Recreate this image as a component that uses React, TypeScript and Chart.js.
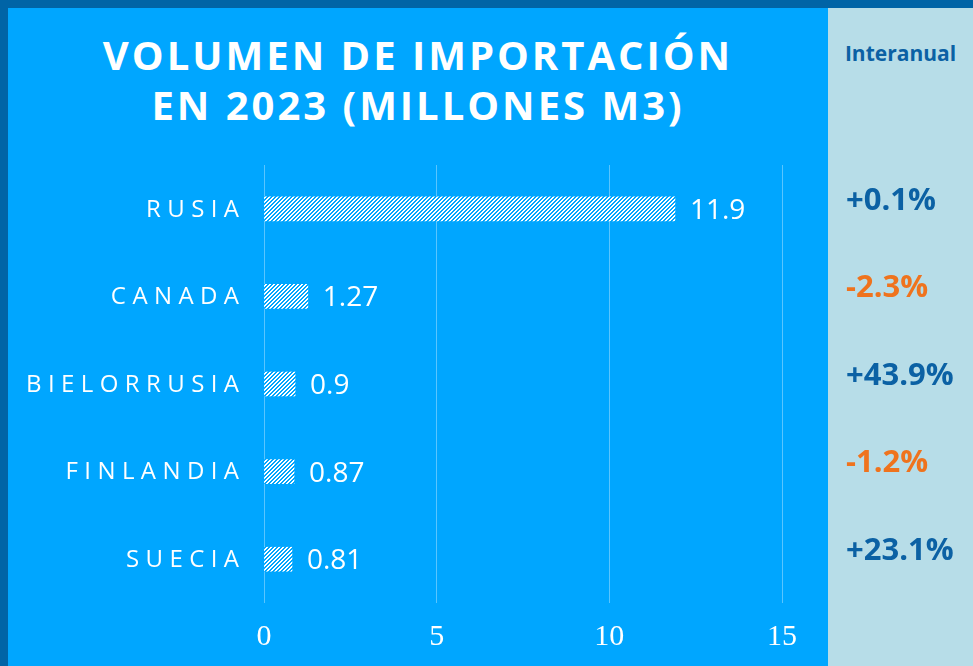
import React, { useEffect, useRef } from "react";
import { Chart, registerables } from "chart.js";

Chart.register(...registerables);

const countries = ["RUSIA", "CANADA", "BIELORRUSIA", "FINLANDIA", "SUECIA"];
const volumes = [11.9, 1.27, 0.9, 0.87, 0.81];
const changes = [0.1, -2.3, 43.9, -1.2, 23.1];
const xMin = 0;
const xMax = 15;
const xStep = 5;
const titleLines = ["VOLUMEN DE IMPORTACIÓN", "EN 2023 (MILLONES M3)"];
const panelTitle = "Interanual";

const MAIN_BLUE = "#00A6FF";
const BORDER_BLUE = "#0064A6";
const PANEL_BG = "#B7DDE8";
const DARK_TEXT = "#0B61A4";
const ORANGE = "#EF731D";

function makePattern(ctx: CanvasRenderingContext2D) {
  const tile = document.createElement("canvas");
  tile.width = 4;
  tile.height = 4;
  const t = tile.getContext("2d")!;
  t.fillStyle = "#ffffff";
  t.fillRect(0, 0, 4, 4);
  t.fillStyle = MAIN_BLUE;
  for (let y = 0; y < 4; y++) {
    const x1 = (3 - y + 4) % 4;
    const x2 = (4 - y + 4) % 4;
    t.fillRect(x1, y, 1, 1);
    t.fillRect(x2, y, 1, 1);
  }
  return ctx.createPattern(tile, "repeat")!;
}

const overlayPlugin = {
  id: "overlay",
  afterDatasetsDraw(chart: any) {
    const ctx: CanvasRenderingContext2D = chart.ctx;
    const meta = chart.getDatasetMeta(0);
    const yScale = chart.scales.y;
    const left = chart.chartArea.left;
    ctx.save();
    ctx.textBaseline = "middle";
    // category labels
    ctx.fillStyle = "#ffffff";
    ctx.textAlign = "right";
    ctx.font = '400 24px "Open Sans"';
    (ctx as any).letterSpacing = "6.4px";
    countries.forEach((c, i) => {
      const y = yScale.getPixelForValue(i);
      ctx.fillText(c, left - 25 + 6.4, y + 1);
    });
    (ctx as any).letterSpacing = "0px";
    // value labels
    ctx.textAlign = "left";
    ctx.font = '400 28px "Open Sans"';
    meta.data.forEach((bar: any, i: number) => {
      ctx.fillText(String(volumes[i]), bar.x + 15, bar.y + 2);
    });
    // year-over-year changes
    ctx.font = '700 31px "Open Sans"';
    changes.forEach((v, i) => {
      const y = yScale.getPixelForValue(i) - 8;
      ctx.fillStyle = v < 0 ? ORANGE : DARK_TEXT;
      ctx.fillText((v > 0 ? "+" : "") + v.toFixed(1) + "%", 846, y);
    });
    ctx.restore();
  },
};

export default function App() {
  const ref = useRef<HTMLCanvasElement | null>(null);

  useEffect(() => {
    const canvas = ref.current!;
    const ctx = canvas.getContext("2d")!;
    const pattern = makePattern(ctx);
    const chart = new Chart(canvas, {
      type: "bar",
      data: {
        labels: countries,
        datasets: [
          {
            data: volumes,
            backgroundColor: pattern as any,
            borderWidth: 0,
            barThickness: 24,
          },
        ],
      },
      options: {
        indexAxis: "y",
        animation: false,
        responsive: false,
        events: [],
        layout: { padding: { left: 264, right: 191, top: 165, bottom: 0 } },
        plugins: {
          legend: { display: false },
          tooltip: { enabled: false },
          title: { display: false },
        },
        scales: {
          x: {
            min: xMin,
            max: xMax,
            ticks: {
              stepSize: xStep,
              color: "#ffffff",
              font: { family: '"Liberation Serif", serif', size: 30 },
              padding: 16,
            },
            grid: { color: "rgba(255,255,255,0.35)", drawTicks: false },
            border: { display: false },
            afterFit(s: any) {
              s.height = 63;
            },
          },
          y: { display: false },
        },
      },
      plugins: [overlayPlugin],
    });
    return () => chart.destroy();
  }, []);

  return (
    <div
      style={{
        position: "absolute",
        left: 0,
        top: 0,
        width: 973,
        height: 666,
        background: BORDER_BLUE,
        overflow: "hidden",
      }}
    >
      <div
        style={{
          position: "absolute",
          left: 8,
          top: 8,
          width: 820,
          height: 658,
          background: MAIN_BLUE,
        }}
      />
      <div
        style={{
          position: "absolute",
          left: 828,
          top: 8,
          width: 145,
          height: 658,
          background: PANEL_BG,
        }}
      />
      <div
        style={{
          position: "absolute",
          left: 8,
          top: 30,
          width: 820,
          textAlign: "center",
          color: "#ffffff",
          fontFamily: '"Open Sans", sans-serif',
          fontWeight: 700,
          fontSize: 40,
          lineHeight: "50px",
          letterSpacing: "3px",
        }}
      >
        {titleLines.map((l, i) => (
          <div key={i}>{l}</div>
        ))}
      </div>
      <div
        style={{
          position: "absolute",
          left: 828,
          top: 38,
          width: 145,
          textAlign: "center",
          color: DARK_TEXT,
          fontFamily: '"Open Sans", sans-serif',
          fontWeight: 700,
          fontSize: 21,
          lineHeight: "30px",
        }}
      >
        {panelTitle}
      </div>
      <canvas
        ref={ref}
        width={973}
        height={666}
        style={{ position: "absolute", left: 0, top: 0, width: 973, height: 666 }}
      />
    </div>
  );
}
